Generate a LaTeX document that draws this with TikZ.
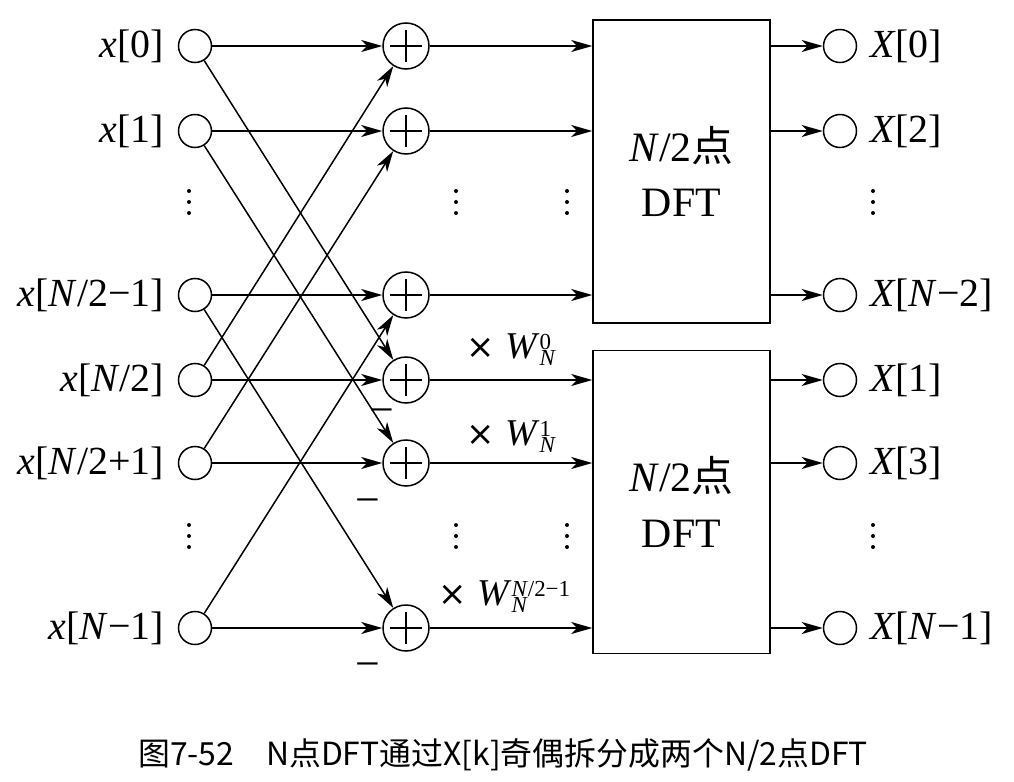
\documentclass[tikz,border=0pt]{standalone}
\usepackage{fontspec}
\setmainfont{Liberation Serif}[ItalicFont={Liberation Serif Italic}]
\newfontfamily\cjk{Noto Sans CJK SC}
\newfontfamily\symf{DejaVu Sans}
\usetikzlibrary{arrows.meta}
\newcommand\wfac[1]{{\symf\fontsize{34}{34}\selectfont ×}\hspace{10bp}\textit{W}$^{\mbox{\fontsize{23}{23}\selectfont #1}}_{\mbox{\fontsize{23}{23}\selectfont\textit{N}}}$}
\tikzset{
	io/.style={circle, draw, minimum size=33bp, inner sep=0pt},
	adder/.style={circle, draw, minimum size=46bp, inner sep=0pt},
	dft/.style={draw, minimum width=177bp, minimum height=303bp, align=center, font=\fontsize{42}{56}\selectfont},
	lbl/.style={inner sep=0pt, font=\fontsize{40}{44}\selectfont},
	fac/.style={inner sep=0pt, anchor=base west, font=\fontsize{38}{40}\selectfont},
}
\begin{document}
\begin{tikzpicture}[x=1bp, y=-1bp, line width=1.5bp, >={Stealth[length=21bp,width=12bp,inset=6bp]}]
\useasboundingbox (0,0) rectangle (1014,782);
% the six rows: input, adder, output
\foreach \n/\y in {0/46,1/131,2/295,3/380,4/463,5/628}
{
	\node[io] (x\n) at (195,\y) {};
	\node[adder] (a\n) at (406,\y) {};
	\node[io] (y\n) at (840,\y) {};
	\draw (a\n.center) +(-16,0) -- +(16,0) (a\n.center) +(0,-16) -- +(0,16);
	\draw[->] (x\n) -- (a\n);
}
\node[dft] (top) at (681.5,171.5) {\textit{N}/2{\cjk 点}\\DFT};
\node[dft] (bot) at (681.5,502) {\textit{N}/2{\cjk 点}\\DFT};

% butterflies
\foreach \i/\j in {0/3,1/4,2/5,3/0,4/1,5/2}
	\draw[->] (x\i) -- (a\j);
\foreach \n in {0,1,2}
{
	\draw[->] (a\n) -- (a\n -| top.west);
	\draw[->] (y\n -| top.east) -- (y\n);
}
\foreach \n in {3,4,5}
{
	\draw[->] (a\n) -- (a\n -| bot.west);
	\draw[->] (y\n -| bot.east) -- (y\n);
}

% labels
\foreach \n/\t in {0/{\textit{x}[0]}, 1/{\textit{x}[1]}, 2/{\textit{x}[\textit{N}/2−1]},
	3/{\textit{x}[\textit{N}/2]}, 4/{\textit{x}[\textit{N}/2+1]}, 5/{\textit{x}[\textit{N}−1]}}
	\node[lbl, anchor=east] at ([xshift=-13bp]x\n.west) {\t};
\foreach \n/\t in {0/{\textit{X}[0]}, 1/{\textit{X}[2]}, 2/{\textit{X}[\textit{N}−2]},
	3/{\textit{X}[1]}, 4/{\textit{X}[3]}, 5/{\textit{X}[\textit{N}−1]}}
	\node[lbl, anchor=west] at ([xshift=12bp]y\n.east) {\t};
\foreach \px/\py in {382/417, 368/507, 368/671}
	\node[lbl, font=\fontsize{44}{44}\selectfont] at (\px,\py) {−};
\node[fac] at (466,358) {\wfac{0}};
\node[fac] at (466,445) {\wfac{1}};
\node[fac] at (438,605) {\wfac{\textit{N}/2−1}};

% vertical dots
\foreach \px/\py in {189/202, 456/202, 567/202, 873/202, 189/536, 456/536, 567/536, 873/536}
	\fill (\px,\py) ++(0,-11) circle (2) ++(0,11) circle (2) ++(0,11) circle (2);

\node[font=\cjk\fontsize{32}{34}\selectfont] (cap) at (503,755) {图7-52\quad N点DFT通过X[k]奇偶拆分成两个N/2点DFT};
\end{tikzpicture}
\end{document}
